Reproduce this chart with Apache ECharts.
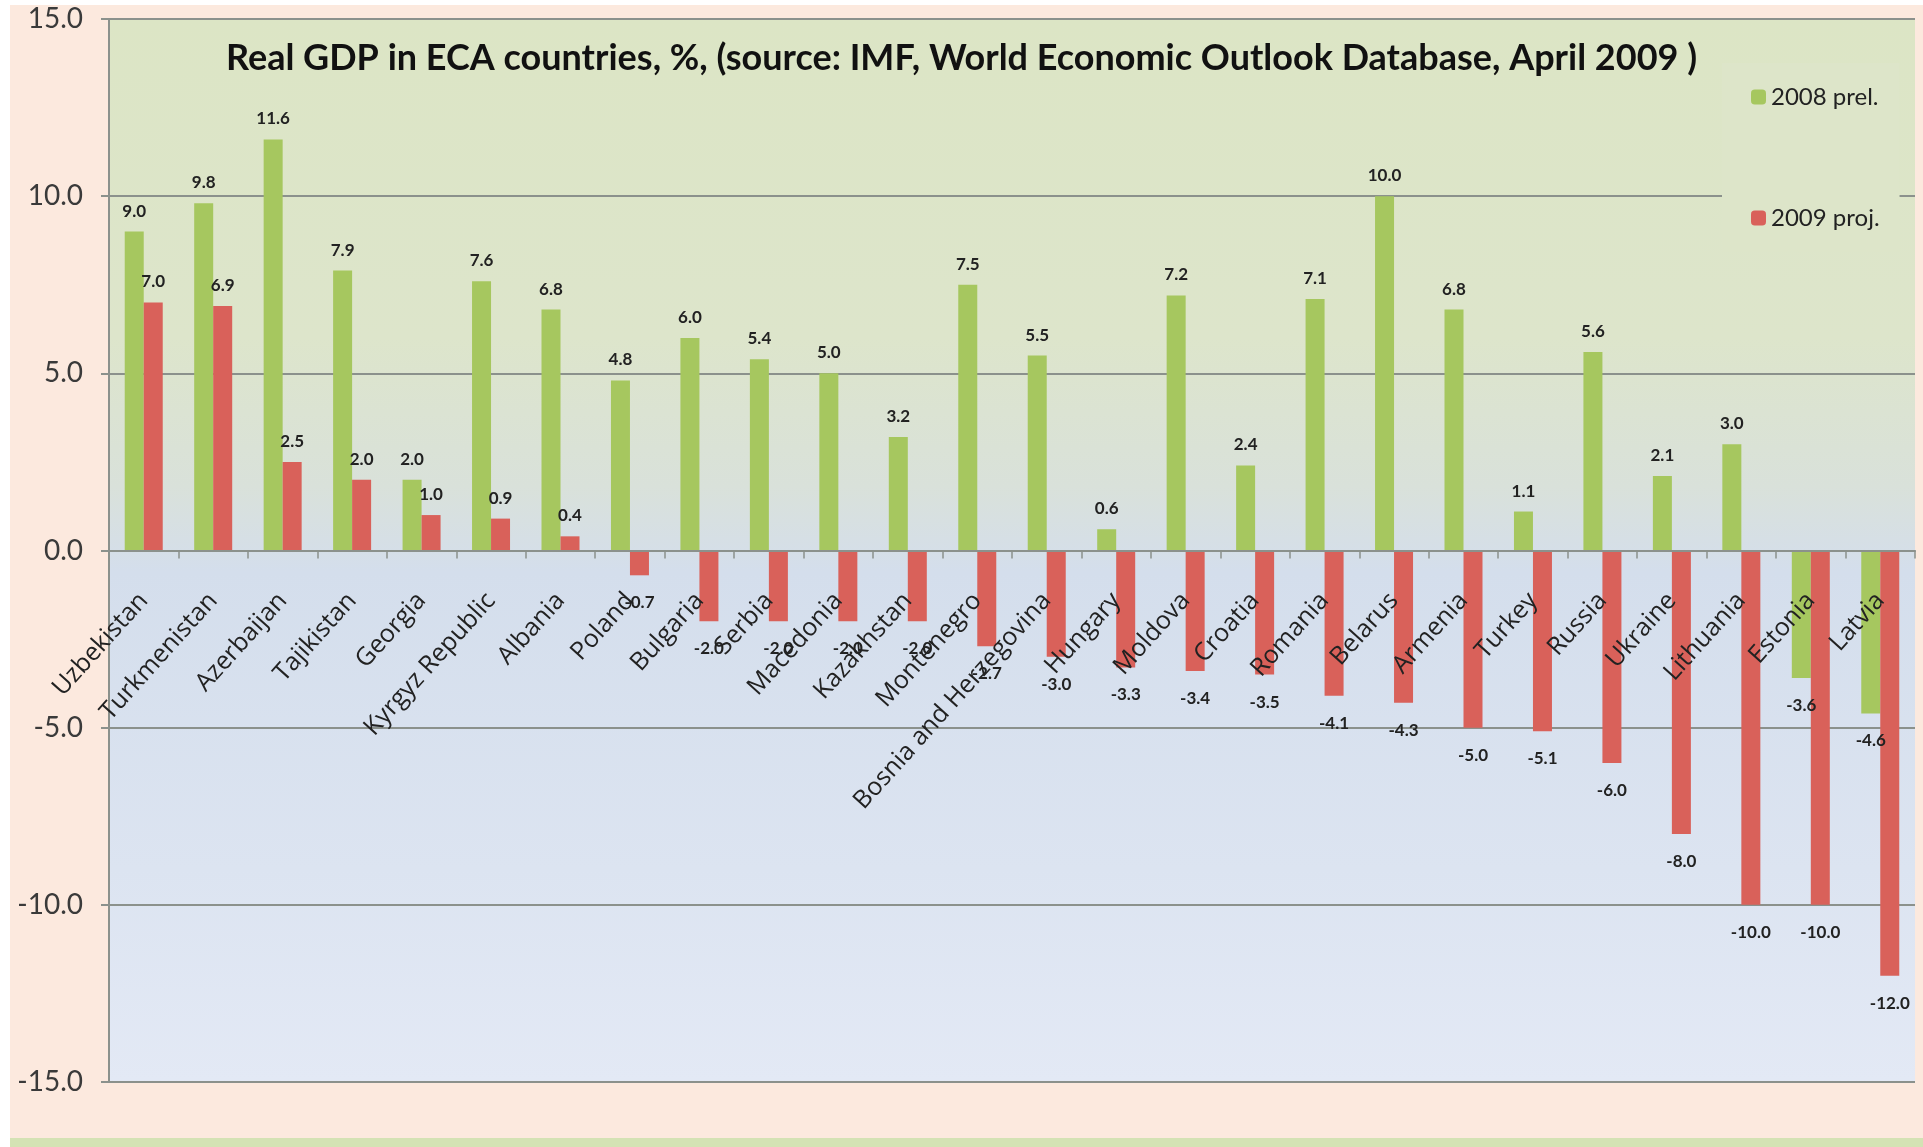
<!DOCTYPE html>
<html><head><meta charset="utf-8">
<script src="https://cdn.jsdelivr.net/npm/echarts@6/dist/echarts.min.js"></script>
<style>html,body{margin:0;padding:0;background:#fff;}#c{width:1923px;height:1147px;}</style>
</head><body><div id="c"></div>
<script>
const countries = ['Uzbekistan','Turkmenistan','Azerbaijan','Tajikistan','Georgia','Kyrgyz Republic','Albania','Poland','Bulgaria','Serbia','Macedonia','Kazakhstan','Montenegro','Bosnia and Herzegovina','Hungary','Moldova','Croatia','Romania','Belarus','Armenia','Turkey','Russia','Ukraine','Lithuania','Estonia','Latvia'];
const gdp2008 = [9.0,9.8,11.6,7.9,2.0,7.6,6.8,4.8,6.0,5.4,5.0,3.2,7.5,5.5,0.6,7.2,2.4,7.1,10.0,6.8,1.1,5.6,2.1,3.0,-3.6,-4.6];
const gdp2009 = [7.0,6.9,2.5,2.0,1.0,0.9,0.4,-0.7,-2.0,-2.0,-2.0,-2.0,-2.7,-3.0,-3.3,-3.4,-3.5,-4.1,-4.3,-5.0,-5.1,-6.0,-8.0,-10.0,-10.0,-12.0];
const seriesNames = ['2008 prel.','2009 proj.'];
const yMin = -15, yMax = 15, yStep = 5;
const titleText = 'Real GDP in ECA countries, %, (source: IMF, World Economic Outlook Database, April 2009 )';

const GRID = '#8b918c';
const lato = 'Lato, sans-serif';
const gridTop = 19, gridBottom = 65, H = 1147;
// shift the category axis from the grid bottom up to the value 0
const plotH = H - gridTop - gridBottom;
const zeroShift = -plotH * (0 - yMin) / (yMax - yMin);

function items(arr){
  return arr.map(v => ({value: v, label: {position: v >= 0 ? 'top' : 'bottom', distance: v >= 0 ? 12 : 19}}));
}
const chart = echarts.init(document.getElementById('c'), null, {renderer: 'canvas'});
chart.setOption({
  backgroundColor: '#fce9de',
  animation: false,
  title: {
    text: titleText, left: 'center', top: 35,
    textStyle: {fontFamily: lato, fontWeight: 'bold', fontSize: 36, color: '#111'}
  },
  graphic: [
    {type: 'rect', left: 0, top: 0, shape: {width: 10, height: 1147}, style: {fill: '#ffffff'}, silent: true},
    {type: 'rect', left: 0, top: 0, shape: {width: 1923, height: 5}, style: {fill: '#ffffff'}, silent: true},
    {type: 'rect', left: 10, top: 1138, shape: {width: 1913, height: 9}, style: {fill: '#d4e2b4'}, silent: true}
  ],
  legend: {
    data: seriesNames, orient: 'vertical', left: 1722, top: 63,
    padding: [20, 20, 20, 29], itemGap: 93, itemWidth: 15, itemHeight: 15,
    backgroundColor: '#dde5c9',
    textStyle: {fontFamily: lato, fontSize: 24, lineHeight: 28, color: '#222'}
  },
  grid: {
    left: 109, right: 8, top: gridTop, bottom: gridBottom, show: true, borderWidth: 0,
    outerBoundsMode: 'none', containLabel: false,
    backgroundColor: new echarts.graphic.LinearGradient(0, 0, 0, 1, [
      {offset: 0, color: '#dce5c5'},
      {offset: 0.3, color: '#dde5cb'},
      {offset: 0.44, color: '#d9e1da'},
      {offset: 0.52, color: '#d4deec'},
      {offset: 0.8, color: '#dce4f1'},
      {offset: 1, color: '#e3e9f5'}
    ])
  },
  xAxis: {
    type: 'category', data: countries, position: 'bottom', offset: zeroShift, z: 5,
    axisLine: {onZero: false, lineStyle: {color: GRID, width: 2}},
    axisTick: {show: true, alignWithLabel: false, length: 8, lineStyle: {color: GRID, width: 1.5}},
    axisLabel: {interval: 0, rotate: 48, margin: 46, fontFamily: '"Open Sans", sans-serif', fontSize: 25, color: '#222'},
    splitLine: {show: false}
  },
  yAxis: {
    type: 'value', min: yMin, max: yMax, interval: yStep,
    axisLine: {show: true, onZero: false, lineStyle: {color: GRID, width: 2}},
    axisTick: {show: true, length: 8, lineStyle: {color: GRID, width: 2}},
    axisLabel: {margin: 26, formatter: v => v.toFixed(1), fontFamily: lato, fontSize: 28, color: '#3a3a3a', padding: [8, 0, 0, 0]},
    splitLine: {show: true, lineStyle: {color: GRID, width: 2}}
  },
  series: [
    {
      name: seriesNames[0], type: 'bar', data: items(gdp2008), barWidth: 19, barGap: '0%',
      itemStyle: {color: '#a6c75f'},
      label: {show: true, formatter: p => p.value.toFixed(1), fontFamily: lato, fontWeight: 'bold', fontSize: 17, color: '#222'}
    },
    {
      name: seriesNames[1], type: 'bar', data: items(gdp2009), barWidth: 19, barGap: '0%',
      itemStyle: {color: '#d9615a'},
      label: {show: true, formatter: p => p.value.toFixed(1), fontFamily: lato, fontWeight: 'bold', fontSize: 17, color: '#222'}
    }
  ]
});
</script></body></html>
